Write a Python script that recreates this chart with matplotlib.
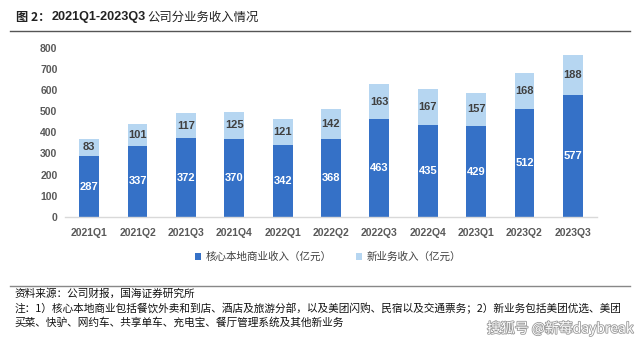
import numpy as np
import matplotlib
matplotlib.use("Agg")
import matplotlib.pyplot as plt
from matplotlib.patches import Patch
from matplotlib.lines import Line2D
import matplotlib.patheffects as pe

plt.rcParams["font.family"] = ["Liberation Sans", "Noto Sans CJK SC", "DejaVu Sans"]

# === 数据 ===
quarters = ["2021Q1", "2021Q2", "2021Q3", "2021Q4", "2022Q1", "2022Q2",
            "2022Q3", "2022Q4", "2023Q1", "2023Q2", "2023Q3"]
core_rev = [287, 337, 372, 370, 342, 368, 463, 435, 429, 512, 577]
new_rev = [83, 101, 117, 125, 121, 142, 163, 167, 157, 168, 188]
y_ticks = [0, 100, 200, 300, 400, 500, 600, 700, 800]

c_core = "#3571C7"
c_new = "#B6D6F1"
c_tick = "#595959"

fig = plt.figure(figsize=(6.4, 3.42), dpi=100)
ax = fig.add_axes([0.1016, 0.3655, 0.8312, 0.4956])

x = np.arange(len(quarters))
w = 0.41
ax.bar(x, core_rev, width=w, color=c_core, edgecolor="none")
ax.bar(x, new_rev, width=w, bottom=core_rev, color=c_new, edgecolor="none")

# 数据标签
for i in range(len(quarters)):
    ax.text(x[i], core_rev[i] / 2, str(core_rev[i]), ha="center", va="center",
            color="white", fontsize=8, fontweight="bold")
    ax.text(x[i], core_rev[i] + new_rev[i] / 2, str(new_rev[i]), ha="center", va="center",
            color="#404040", fontsize=8, fontweight="bold")

# === 坐标设置 ===
ax.set_xlim(-0.5, len(quarters) - 0.5)
ax.set_ylim(0, 800)
ax.set_yticks(y_ticks)
ax.set_xticks(x)
ax.set_xticklabels(quarters)
for s in ["top", "right", "left"]:
    ax.spines[s].set_visible(False)
ax.spines["bottom"].set_color("#D9D9D9")
ax.spines["bottom"].set_linewidth(1.0)
ax.tick_params(axis="both", length=0, labelsize=7.5, labelcolor=c_tick)
ax.tick_params(axis="x", pad=8)
ax.tick_params(axis="y", pad=5.5)
for lab in ax.get_xticklabels() + ax.get_yticklabels():
    lab.set_fontweight("bold")

# 图例
handles = [Patch(facecolor=c_core, edgecolor="none"), Patch(facecolor=c_new, edgecolor="none")]
fig.legend(handles, ["核心本地商业收入（亿元）", "新业务收入（亿元）"],
           loc="center", bbox_to_anchor=(0.512, 0.249), ncol=2, frameon=False,
           prop={"family": ["Noto Sans CJK SC"], "size": 7.6},
           handlelength=0.6, handleheight=0.6, handletextpad=0.4, columnspacing=2.3,
           labelcolor="#404040")

# 标题
fig.text(0.025, 0.950, "图 2：", fontsize=8.8, fontweight="bold", color="#222222", va="center",
         family=["Noto Sans CJK SC"])
fig.text(0.080, 0.950, "2021Q1-2023Q3", fontsize=9.1, fontweight="bold", color="#222222", va="center")
fig.text(0.2297, 0.950, "公司分业务收入情况", fontsize=8.9, color="#222222", va="center",
         family=["Noto Sans CJK SC"])
fig.add_artist(Line2D([0.016, 0.984], [0.909, 0.909], color="#555555", linewidth=1.0))

# 底部线与注释
fig.add_artist(Line2D([0.016, 0.984], [0.164, 0.164], color="#888888", linewidth=1.0))
foot = dict(fontsize=7.7, color="#111111", va="center", family=["Noto Sans CJK SC"])
fig.text(0.022, 0.143, "资料来源：公司财报，国海证券研究所", **foot)
fig.text(0.022, 0.099, "注：1）核心本地商业包括餐饮外卖和到店、酒店及旅游分部，以及美团闪购、民宿以及交通票务；2）新业务包括美团优选、美团", **foot)
fig.text(0.022, 0.058, "买菜、快驴、网约车、共享单车、充电宝、餐厅管理系统及其他新业务", **foot)

# 水印
fig.text(0.99, 0.04, "搜狐号 @新莓daybreak", ha="right", va="center", fontsize=10,
         color="white", family=["Noto Sans CJK SC"],
         path_effects=[pe.withStroke(linewidth=1.2, foreground="#9a9a9a")])

fig.savefig("out.png", dpi=100)
